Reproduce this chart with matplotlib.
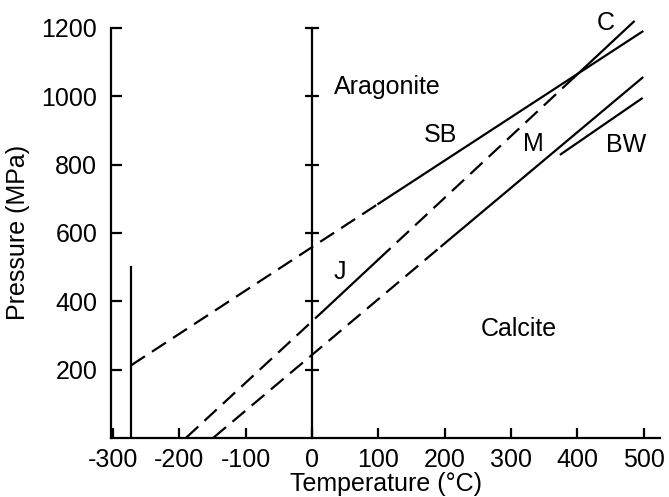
import matplotlib
matplotlib.use("Agg")
import matplotlib.pyplot as plt

plt.rcParams['font.family'] = ['Liberation Sans', 'DejaVu Sans']
plt.rcParams['font.size'] = 18
plt.rcParams['axes.unicode_minus'] = False

# phase boundary segments (temperature degC, pressure MPa)
sb_dash_t = [-273, 100]
sb_dash_p = [212, 685]
sb_t = [100, 498]
sb_p = [685, 1189]

c_dash1_t = [-190, 15]
c_dash1_p = [0, 368]
j_t = [15, 100]
j_p = [368, 522]
c_dash2_t = [100, 395]
c_dash2_p = [522, 1055]
c_t = [395, 485]
c_p = [1055, 1218]

m_dash_t = [-149, 195]
m_dash_p = [0, 561]
m_t = [195, 498]
m_p = [561, 1054]

bw_t = [375, 497]
bw_p = [830, 993]

abs_zero_t = [-273, -273]
abs_zero_p = [0, 500]

xticks = [-300, -200, -100, 0, 100, 200, 300, 400, 500]
yticks = [200, 400, 600, 800, 1000, 1200]

# region / curve labels: (text, T, P)
labels = [("Aragonite", 113, 1028), ("SB", 193, 887), ("M", 333, 861),
          ("BW", 473, 858), ("C", 443, 1215), ("J", 42, 486),
          ("Calcite", 311, 318)]

fig = plt.figure(figsize=(6.69, 4.97), dpi=100)
ax = fig.add_axes([0.166, 0.119, 0.821, 0.825])

lw = 1.6
dash = (7.5, 3.8)
ax.plot(sb_dash_t, sb_dash_p, 'k', lw=lw, dashes=dash)
ax.plot(sb_t, sb_p, 'k', lw=lw, clip_on=False)
ax.plot(c_dash1_t, c_dash1_p, 'k', lw=lw, dashes=dash)
ax.plot(j_t, j_p, 'k', lw=lw)
ax.plot(c_dash2_t, c_dash2_p, 'k', lw=lw, dashes=dash)
ax.plot(c_t, c_p, 'k', lw=lw, clip_on=False)
ax.plot(m_dash_t, m_dash_p, 'k', lw=lw, dashes=dash)
ax.plot(m_t, m_p, 'k', lw=lw)
ax.plot(bw_t, bw_p, 'k', lw=lw)
ax.plot(abs_zero_t, abs_zero_p, 'k', lw=lw)

for txt, t, p in labels:
    ax.text(t, p, txt, ha='center', va='center')

ax.set_xlim(-303, 525)
ax.set_ylim(0, 1200)
ax.set_xticks(xticks)
ax.set_yticks(yticks)
ax.spines['top'].set_visible(False)
ax.spines['right'].set_visible(False)
for s in ['left', 'bottom']:
    ax.spines[s].set_linewidth(lw)
ax.tick_params(axis='x', direction='in', length=7, width=lw, pad=7)
ax.tick_params(axis='y', direction='in', length=8, width=lw, pad=10)
ax.set_xlabel('Temperature (°C)', labelpad=0)
ax.set_ylabel('Pressure (MPa)', labelpad=8)

# the 0 degC line with cross ticks
ax2 = ax.twinx()
ax2.set_ylim(ax.get_ylim())
ax2.set_yticks(yticks)
for s in ['left', 'top', 'bottom']:
    ax2.spines[s].set_visible(False)
ax2.spines['right'].set_position(('data', 0))
ax2.spines['right'].set_linewidth(lw)
ax2.tick_params(axis='y', direction='inout', length=10, width=lw, labelright=False)

fig.savefig('out.png', dpi=100)
